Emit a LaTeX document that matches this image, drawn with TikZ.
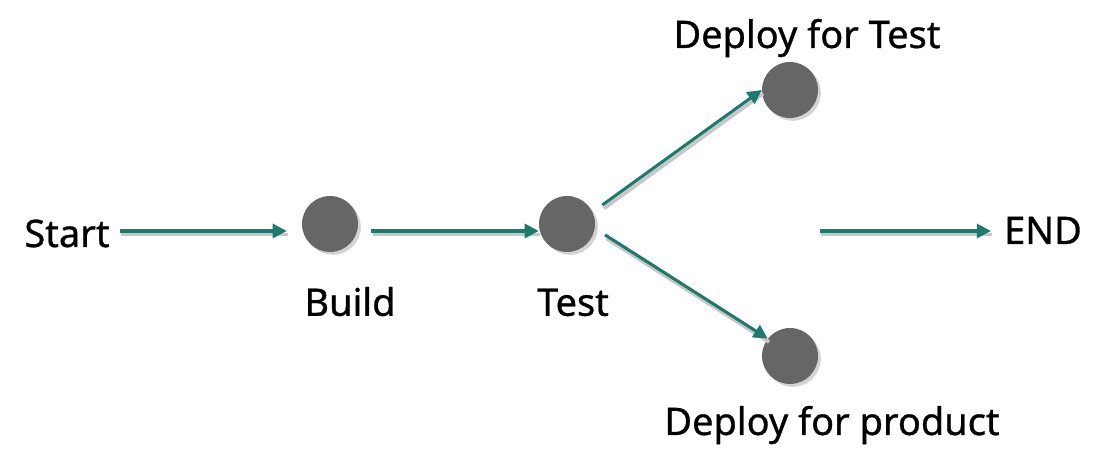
\documentclass[tikz,border=0pt]{standalone}
\usepackage{fontspec}
\setmainfont{Noto Sans}
\usepackage{tikz}
\usetikzlibrary{arrows.meta,shapes,positioning,shadows}
\usepackage{xcolor}
\definecolor{flowteal}{RGB}{28,122,110}
\definecolor{stepgray}{RGB}{102,102,102}
\tikzstyle{flow} = [line width=2.2pt,-{Triangle[length=10pt,width=10pt]},color=flowteal,
  preaction={draw=black!22,line width=2.6pt,-,transform canvas={xshift=1pt,yshift=-2.5pt}}]
\tikzstyle{stage} = [circle,fill=stepgray,minimum size=1.4cm,inner sep=0pt,
  drop shadow={shadow xshift=2pt,shadow yshift=-2pt,opacity=0.35}]
\tikzstyle{label} = [font=\fontsize{27}{32}\selectfont\addfontfeatures{FakeBold=0.8},inner sep=0pt,anchor=base]

\begin{document}
\begin{tikzpicture}
\useasboundingbox (0,0) rectangle (27.6,11.675);
% stages
\node[stage] (build) at (8.25,6.075) {};
\node[stage] (test) at (14.175,6.075) {};
\node[stage] (dtest) at (19.75,9.425) {};
\node[stage] (dprod) at (19.75,2.775) {};

% texts
\node[label] (start) at (1.675,5.5) {Start};
\node[label] (buildtxt) at (8.75,3.78) {Build};
\node[label] (testtxt) at (14.325,3.78) {Test};
\node[label] (dtesttxt) at (20.175,10.475) {Deploy for Test};
\node[label] (dprodtxt) at (20.8,0.8) {Deploy for product};
\node[label] (end) at (26.075,5.575) {END};
\coordinate (endtail) at (20.5,5.9);

% connectors
\draw[flow,shorten <=0.25cm,shorten >=0.375cm] (start.east |- endtail) -- (build.west |- endtail);
\draw[flow,shorten <=0.325cm] (build.east |- endtail) -- (test.west |- endtail);
\draw[flow,shorten <=0.3cm] (test.25) -- (dtest.west);
\draw[flow,shorten <=0.3cm] (test.-9) -- (dprod.142);
\draw[flow,shorten >=0.325cm] (endtail) -- (end.west |- endtail);
\end{tikzpicture}
\end{document}
